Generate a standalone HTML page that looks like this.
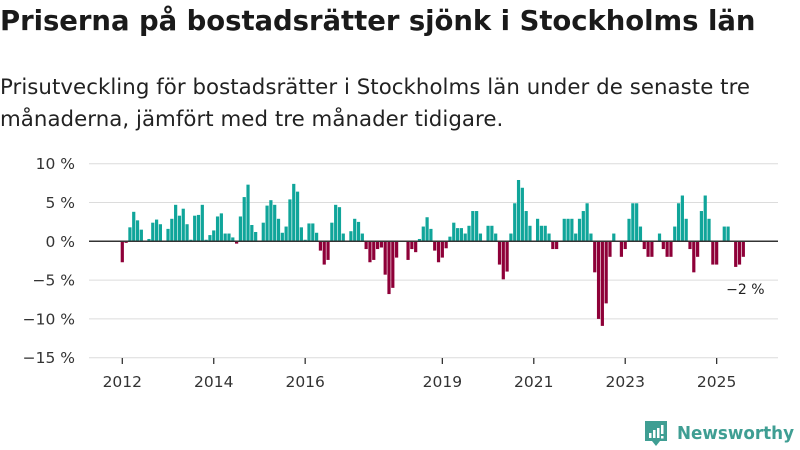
<!DOCTYPE html>
<html><head><meta charset="utf-8"><style>
body{margin:0;background:#fff;width:800px;height:450px;overflow:hidden;font-family:"DejaVu Sans","Liberation Sans",sans-serif;color:#1a1a1a}
#title{position:absolute;left:0;top:5px;font-size:27.5px;font-weight:bold;letter-spacing:-0.05px;white-space:nowrap}
#sub{position:absolute;left:0;top:72px;font-size:21.3px;line-height:32px;width:795px;color:#222;letter-spacing:0.05px}
svg{position:absolute;left:0;top:0}
</style></head><body>
<div id="title">Priserna på bostadsrätter sjönk i Stockholms län</div>
<div id="sub">Prisutveckling för bostadsrätter i Stockholms län under de senaste tre månaderna, jämfört med tre månader tidigare.</div>
<svg id="chart" width="800" height="450"></svg>
<script>
const values=[-2.7,-0.2,1.8,3.8,2.7,1.5,0,0.3,2.4,2.8,2.2,0.1,1.6,2.9,4.7,3.3,4.2,2.2,0.2,3.3,3.4,4.7,0.2,0.8,1.4,3.2,3.6,1.0,1.0,0.5,-0.3,3.2,5.7,7.3,2.1,1.2,0,2.4,4.6,5.3,4.7,2.9,1.1,1.9,5.4,7.4,6.4,1.8,0.2,2.3,2.3,1.1,-1.2,-3.0,-2.4,2.4,4.7,4.4,1.0,0,1.3,2.9,2.5,1.0,-1.0,-2.7,-2.4,-1.0,-0.8,-4.3,-6.8,-6.0,-2.1,0,0,-2.4,-1.0,-1.4,0.3,1.9,3.1,1.6,-1.2,-2.7,-2.1,-0.9,0.6,2.4,1.7,1.7,1.0,2.0,3.9,3.9,1.0,0,2.0,2.0,1.0,-3.0,-4.9,-3.9,1.0,4.9,7.9,6.9,3.9,2.0,0,2.9,2.0,2.0,1.0,-1.0,-1.0,0,2.9,2.9,2.9,1.0,2.9,3.9,4.9,1.0,-4.0,-10.0,-10.9,-8.0,-2.0,1.0,0,-2.0,-1.0,2.9,4.9,4.9,1.9,-1.0,-2.0,-2.0,0,1.0,-1.0,-2.0,-2.0,1.9,4.9,5.9,2.9,-1.0,-4.0,-2.0,3.9,5.9,2.9,-3.0,-3.0,0,1.9,1.9,0,-3.3,-3.0,-2.0];
const yTicks=[10,5,0,-5,-10,-15];
const yLabels=["10 %","5 %","0 %","−5 %","−10 %","−15 %"];
const xYears=[2012,2014,2016,2019,2021,2023,2025];
const NS="http://www.w3.org/2000/svg";
const svg=document.getElementById('chart');
const y=v=>241.3-v*7.76;
const x=i=>122.3+i*3.81;
const xYear=yr=>x((yr-2012)*12);
function mk(t,a,p){const e=document.createElementNS(NS,t);for(const k in a)e.setAttribute(k,a[k]);(p||svg).appendChild(e);return e;}
yTicks.forEach((t,k)=>{
  const g=mk('line',{x1:89,x2:778,y1:y(t),y2:y(t),stroke:'#dcdcdc','stroke-width':1});
  
  
  const l=mk('text',{x:75,y:y(t)+5.5,'text-anchor':'end','font-size':15.5,fill:'#333'});
  l.textContent=yLabels[k];
  
  
});
values.forEach((v,i)=>{
  const r=mk('rect',{x:x(i)-1.6,width:3.2,y:v>=0?y(v):y(0),height:Math.abs(y(v)-y(0)),fill:v>=0?'#10a59a':'#8e0038'});
  
  
});
const z=mk('line',{x1:89,x2:778,y1:y(0),y2:y(0),stroke:'#333','stroke-width':1.5});


xYears.forEach(yr=>{
  const t=mk('line',{x1:xYear(yr),x2:xYear(yr),y1:358,y2:364,stroke:'#333','stroke-width':1.3});
  
  
  const l=mk('text',{x:xYear(yr),y:387,'text-anchor':'middle','font-size':15.5,fill:'#333'});
  l.textContent=yr;
  
  
});
const last=values.length-1;
const lab=mk('text',{x:x(last)+2,y:y(values[last])+37,'text-anchor':'middle','font-size':14,fill:'#222'});
lab.textContent='−2 %';


</script>
<svg width="800" height="450" style="position:absolute;left:0;top:0">
<path d="M645 421h22v20h-7l-4 5-4-5h-7z" fill="#3f9e93"/>
<rect x="649" y="433" width="2.5" height="5" fill="#fff"/><rect x="653" y="430" width="2.5" height="8" fill="#fff"/><rect x="657" y="428" width="2.5" height="10" fill="#fff"/><rect x="661" y="425" width="2.5" height="9" fill="#fff"/><rect x="661" y="436" width="2.5" height="2.5" fill="#fff"/>
<text x="677" y="439" font-size="18" font-weight="bold" fill="#3f9e93" textLength="117" lengthAdjust="spacingAndGlyphs" font-family="DejaVu Sans, Liberation Sans, sans-serif">Newsworthy</text>
</svg>
</body></html>
